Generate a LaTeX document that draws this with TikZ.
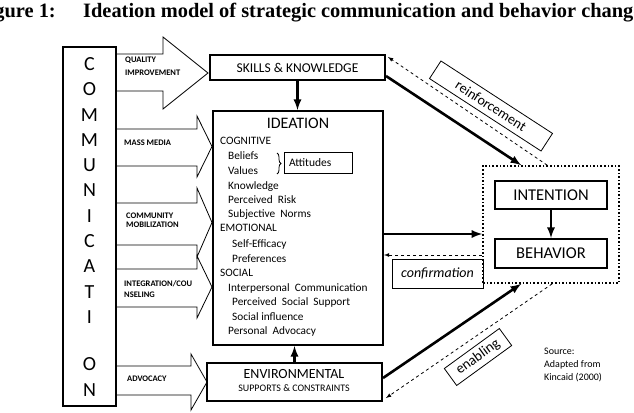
\documentclass[tikz,border=0pt]{standalone}
\usepackage{fontspec}
\setmainfont{Carlito}
\newfontfamily\titlefont{Liberation Serif}
\usetikzlibrary{decorations.pathreplacing}

\tikzset{
  box/.style={draw, line width=2pt, inner sep=0pt},
  thinbox/.style={draw, line width=0.8pt, inner sep=0pt},
  blockarrow/.style={draw, line width=0.8pt},
  link/.style={->, line width=2.6pt},
  back/.style={->, dashed, line width=0.8pt},
  itemtext/.style={anchor=base west, inner sep=0pt, font=\fontsize{11.3}{11.3}\selectfont},
  arrowlabel/.style={anchor=base west, inner sep=0pt, font=\bfseries\fontsize{8.5}{8.5}\selectfont},
}

\begin{document}
\begin{tikzpicture}[x=1pt, y=-1pt, >=latex]
    \useasboundingbox (0,0) rectangle (634,412);

    % caption
    \node[anchor=base east, inner sep=0pt, font=\titlefont\bfseries\fontsize{20.4}{20.4}\selectfont] (fig) at (56,17.5) {Figure 1:};
    \node[anchor=base west, inner sep=0pt, font=\titlefont\bfseries\fontsize{20.4}{20.4}\selectfont] (title) at (83,17.5) {Ideation model of strategic communication and behavior change};

    % communication column
    \node[box, minimum width=53pt, minimum height=359pt] (comm) at (89.5,226.5) {};
    \foreach \l/\y [count=\i] in {C/64, O/89.3, M/114.6, M/139.9, U/165.2, N/190.5, I/215.8, C/241.1, A/266.4, T/291.7, I/317, O/364, N/390}
        \node[font=\fontsize{20}{20}\selectfont, inner sep=0pt] (letter\i) at (89.5,\y) {\l};

    % block arrows into the model
    \foreach \t/\b/\hx/\ht/\hb/\tx in {54/91/163/37/109/208, 129/166/197/116/177/212, 203/245/197/188/257/212, 269/307/197/256/318/212, 366/395/191/354/410/207}
        \draw[blockarrow] (116,\t) -- (\hx,\t) -- (\hx,\ht) -- (\tx,{(\ht+\hb)/2}) -- (\hx,\hb) -- (\hx,\b) -- (116,\b);

    \node[arrowlabel] (qual) at (125,63) {QUALITY};
    \node[arrowlabel] (impr) at (125,75) {IMPROVEMENT};
    \node[arrowlabel] (mass) at (124,145) {MASS MEDIA};
    \node[arrowlabel] (cmty) at (126,218) {COMMUNITY};
    \node[arrowlabel] (mobi) at (126,227) {MOBILIZATION};
    \node[arrowlabel] (intg) at (124,286) {INTEGRATION/COU};
    \node[arrowlabel] (nsel) at (124,297) {NSELING};
    \node[arrowlabel] (advo) at (127,381) {ADVOCACY};

    % skills, ideation, environment
    \node[box, minimum width=175pt, minimum height=25pt, font=\fontsize{13.5}{13.5}\selectfont] (skills) at (297.5,67.5) {SKILLS \& KNOWLEDGE};
    \node[box, minimum width=170pt, minimum height=234pt] (ideation) at (298,228) {};
    \node[inner sep=0pt, font=\fontsize{16}{16}\selectfont] (ideatitle) at (298,123) {IDEATION};
    \foreach \x/\y/\t [count=\i] in {220/140/COGNITIVE, 228/155/Beliefs, 228/170/Values, 228/185/Knowledge,
        228/199/Perceived\ \ Risk, 228/213/Subjective\ \ Norms, 220/227/EMOTIONAL, 232/243/Self-Efficacy,
        232/258/Preferences, 220/272/SOCIAL, 228/287/Interpersonal\ \ Communication,
        232/301/Perceived\ \ Social\ \ Support, 232/316/Social\ influence, 228/330/Personal\ \ Advocacy}
        \node[itemtext] (item\i) at (\x,\y+4) {\t};

    \draw[decorate, decoration={brace, amplitude=4pt}, line width=0.8pt] (277,153) -- (277,174);
    \node[thinbox, minimum height=21pt, text width=58pt, inner xsep=5pt, align=left, font=\fontsize{11.5}{11.5}\selectfont] (attitudes) at (318,162.5) {Attitudes};

    \node[box, minimum width=175pt, minimum height=38pt] (env) at (294.5,382) {};
    \node[inner sep=0pt, font=\fontsize{14}{14}\selectfont] (envtitle) at (294,374) {ENVIRONMENTAL};
    \node[inner sep=0pt, font=\fontsize{10}{10}\selectfont] (envsub) at (294,388.5) {SUPPORTS \& CONSTRAINTS};

    \draw[link] (skills.south) -- (skills.south |- ideation.north);
    \draw[link] (env.north) -- (env.north |- ideation.south);

    % intention and behavior
    \node[draw, dotted, line width=1.6pt, minimum width=136pt, minimum height=117pt, inner sep=0pt] (change) at (551,224.5) {};
    \node[box, minimum width=112pt, minimum height=28pt, font=\fontsize{16.5}{16.5}\selectfont] (intention) at (551,195) {INTENTION};
    \node[box, minimum width=112pt, minimum height=29pt, font=\fontsize{16.5}{16.5}\selectfont] (behavior) at (551,253.5) {BEHAVIOR};
    \draw[link] (intention.south) -- (behavior.north);

    % links to the change box
    \draw[link] ([yshift=5pt]skills.south east) -- ([xshift=39pt]change.north west);
    \draw[back] ([xshift=65pt]change.north west) -- ([shift={(2pt,-3pt)}]skills.north east);
    \draw[link] ([yshift=-6pt]ideation.east) -- ([yshift=-6pt]ideation.east -| change.west);
    \draw[back] ([yshift=-27pt]ideation.east -| change.west) -- ([yshift=-27pt]ideation.east);
    \draw[link] ([yshift=4pt]env.east) -- ([xshift=39pt]change.south west);
    \draw[back] ([xshift=70pt]change.south west) -- ([shift={(3pt,4pt)}]env.south east);

    % labels on the links
    \node[thinbox, rotate=-33, minimum width=133pt, minimum height=21pt, font=\fontsize{14}{14}\selectfont] (reinf) at (491,106) {reinforcement};
    \node[thinbox, minimum width=91pt, minimum height=29pt, font=\itshape\fontsize{14}{14}\selectfont] (confirm) at (437.5,273.5) {confirmation};
    \node[thinbox, rotate=36, minimum width=68pt, minimum height=21pt, font=\fontsize{14.5}{14.5}\selectfont] (enab) at (478,357) {enabling};

    \node[anchor=north west, align=left, inner sep=0pt, font=\fontsize{10}{13}\selectfont] (source) at (544,348) {Source:\\Adapted from\\Kincaid (2000)};

\end{tikzpicture}
\end{document}
